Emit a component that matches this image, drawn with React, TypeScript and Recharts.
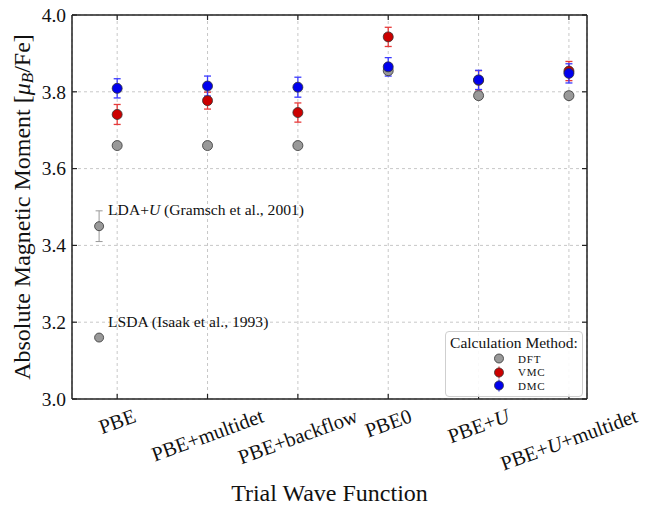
import { ScatterChart, Scatter, XAxis, YAxis, CartesianGrid, ErrorBar, Legend } from 'recharts';

const categories = ['PBE', 'PBE+multidet', 'PBE+backflow', 'PBE0', 'PBE+U', 'PBE+U+multidet'];
const dftValues = [3.66, 3.66, 3.66, 3.855, 3.79, 3.79];
const vmcValues = [3.741, 3.777, 3.746, 3.943, 3.83, 3.854];
const vmcErrors = [0.026, 0.022, 0.025, 0.025, 0.025, 0.025];
const dmcValues = [3.809, 3.815, 3.812, 3.865, 3.831, 3.848];
const dmcErrors = [0.025, 0.026, 0.026, 0.024, 0.025, 0.025];

const referenceNames = ['LDA+U (Gramsch et al., 2001)', 'LSDA (Isaak et al., 1993)'];
const referenceValues = [3.45, 3.16];
const referenceErrors = [0.04, 0];
const referenceX = -0.2;

const yTicks = [3.0, 3.2, 3.4, 3.6, 3.8, 4.0];
const xTicks = categories.map((_, i) => i);

const legendNames = ['DFT', 'VMC', 'DMC'];
const colors = ['#999999', '#cc0000', '#0000ee'];
const barColors = ['#888888', '#e63a3a', '#3a3aff'];

const dftData = categories.map((name, i) => ({ x: i, y: dftValues[i], name }));
const vmcData = categories.map((name, i) => ({ x: i, y: vmcValues[i], err: vmcErrors[i], name }));
const dmcData = categories.map((name, i) => ({ x: i, y: dmcValues[i], err: dmcErrors[i], name }));
const refData = referenceNames.map((name, i) => ({ x: referenceX, y: referenceValues[i], err: referenceErrors[i], name }));

const FONT = 'Liberation Serif, DejaVu Serif, serif';
const XTICK_SIZE = 20.5;
const YTICK_SIZE = 19.5;

const ctx = typeof document !== 'undefined' ? document.createElement('canvas').getContext('2d') : null;
function textWidth(s: string, size: number) {
  if (!ctx) return s.length * size * 0.5;
  let w = 0;
  s.split(/(U)/).forEach(part => {
    if (!part) return;
    ctx.font = `${part === 'U' ? 'italic ' : ''}${size}px ${FONT}`;
    w += ctx.measureText(part).width;
  });
  return w;
}

function italicU(s: string) {
  return s.split(/(U)/).filter(Boolean).map((part, i) =>
    part === 'U' ? <tspan key={i} fontStyle="italic">U</tspan> : <tspan key={i}>{part}</tspan>
  );
}

const dot = (fill: string) => (props: any) => (
  <circle cx={props.cx} cy={props.cy} r={5} fill={fill} stroke="#333" strokeWidth={0.8} />
);

const refShape = (props: any) => (
  <g>
    <circle cx={props.cx} cy={props.cy} r={4.5} fill={colors[0]} stroke="#333" strokeWidth={0.8} />
    <text x={props.cx + 9} y={props.cy - 11} style={{ fontFamily: FONT }} fontSize={15.6} fill="#111">
      {italicU(props.payload.name)}
    </text>
  </g>
);

function BottomTick({ x, y, payload }: any) {
  const label = categories[payload.value] ?? '';
  const L = textWidth(label, XTICK_SIZE);
  const a = (20 * Math.PI) / 180;
  const h = XTICK_SIZE * 0.72;
  const bh = L * Math.sin(a) + h * Math.cos(a);
  const cy = y + 9 + bh / 2;
  return (
    <g>
      <line x1={x} y1={y} x2={x} y2={y - 5} stroke="#222" strokeWidth={1.2} />
      <text x={x} y={cy} textAnchor="middle" dominantBaseline="central" style={{ fontFamily: FONT }}
        fontSize={XTICK_SIZE} fill="#111" transform={`rotate(-20 ${x} ${cy})`}>
        {italicU(label)}
      </text>
    </g>
  );
}

function TopTick({ x, y }: any) {
  return <line x1={x} y1={y} x2={x} y2={y + 5} stroke="#222" strokeWidth={1.2} />;
}

function LeftTick({ x, y, payload }: any) {
  return (
    <g>
      <line x1={x} y1={y} x2={x + 5} y2={y} stroke="#222" strokeWidth={1.2} />
      <text x={x - 6} y={y} dy="0.35em" textAnchor="end" style={{ fontFamily: FONT }} fontSize={YTICK_SIZE} fill="#111">
        {Number(payload.value).toFixed(1)}
      </text>
    </g>
  );
}

function RightTick({ x, y }: any) {
  return <line x1={x} y1={y} x2={x - 5} y2={y} stroke="#222" strokeWidth={1.2} />;
}

function YTitle({ viewBox }: any) {
  const cx = viewBox.x + 22;
  const cy = viewBox.y + viewBox.height / 2;
  return (
    <text x={cx} y={cy} textAnchor="middle" dominantBaseline="central" style={{ fontFamily: FONT }} fontSize={24}
      fill="#111" transform={`rotate(-90 ${cx} ${cy})`}>
      <tspan>Absolute Magnetic Moment [</tspan>
      <tspan fontStyle="italic">μ</tspan>
      <tspan fontStyle="italic" fontSize={17} dy={5}>B</tspan>
      <tspan dy={-5}>/Fe]</tspan>
    </text>
  );
}

function XTitle({ viewBox }: any) {
  return (
    <text x={viewBox.x + viewBox.width / 2} y={viewBox.y + viewBox.height - 5} textAnchor="middle"
      style={{ fontFamily: FONT }} fontSize={24} fill="#111">
      Trial Wave Function
    </text>
  );
}

function LegendBox() {
  return (
    <div style={{
      border: '1px solid #cfcfcf', borderRadius: 4, background: 'rgba(255,255,255,0.9)',
      fontFamily: FONT, padding: '2px 4px 3px', boxSizing: 'border-box', width: 138,
    }}>
      <div style={{ fontSize: 15.5, color: '#111', textAlign: 'center', lineHeight: '18px' }}>Calculation Method:</div>
      {legendNames.map((n, i) => (
        <div key={n} style={{ display: 'flex', alignItems: 'center', height: 13.5 }}>
          <svg width={14} height={13} style={{ marginLeft: 42 }}>
            {i > 0 && <line x1={7} y1={0.5} x2={7} y2={12.5} stroke={barColors[i]} strokeWidth={1.2} />}
            <circle cx={7} cy={6.5} r={4.5} fill={colors[i]} stroke="#333" strokeWidth={0.8} />
          </svg>
          <span style={{ fontSize: 11, letterSpacing: 0.8, marginLeft: 12, color: '#111' }}>{n}</span>
        </div>
      ))}
    </div>
  );
}

export default function App() {
  return (
    <div style={{ position: 'absolute', left: 0, top: 0, background: '#fff', fontFamily: FONT }}>
      <ScatterChart width={645} height={506} margin={{ top: 14, right: 57, left: 0, bottom: 0 }}>
        <CartesianGrid stroke="#c8c8c8" strokeDasharray="3 3" />
        <XAxis xAxisId={0} dataKey="x" type="number" domain={[-0.5, 5.2]} ticks={xTicks} allowDataOverflow
          height={107} tickLine={false} tickSize={0} tickMargin={0} tick={<BottomTick />} interval={0}
          axisLine={{ stroke: '#222', strokeWidth: 1.5 }} label={<XTitle />} />
        <XAxis xAxisId="top" orientation="top" dataKey="x" type="number" domain={[-0.5, 5.2]} ticks={xTicks}
          allowDataOverflow height={1} tickLine={false} tickSize={0} tickMargin={0} tick={<TopTick />} interval={0}
          axisLine={{ stroke: '#222', strokeWidth: 1.5 }} />
        <YAxis yAxisId={0} dataKey="y" type="number" domain={[3.0, 4.0]} ticks={yTicks} allowDataOverflow
          width={72} tickLine={false} tickSize={0} tickMargin={0} tick={<LeftTick />} interval={0}
          axisLine={{ stroke: '#222', strokeWidth: 1.5 }} label={<YTitle />} />
        <YAxis yAxisId="right" orientation="right" dataKey="y" type="number" domain={[3.0, 4.0]} ticks={yTicks}
          allowDataOverflow width={1} tickLine={false} tickSize={0} tickMargin={0} tick={<RightTick />} interval={0}
          axisLine={{ stroke: '#222', strokeWidth: 1.5 }} />
        <Scatter name="ref" data={refData} shape={refShape} isAnimationActive={false} legendType="none">
          <ErrorBar dataKey="err" direction="y" width={3.5} stroke="#999" strokeWidth={1} />
        </Scatter>
        <Scatter name="DFT" data={dftData} shape={dot(colors[0])} isAnimationActive={false} />
        <Scatter name="VMC" data={vmcData} shape={dot(colors[1])} isAnimationActive={false}>
          <ErrorBar dataKey="err" direction="y" width={3.5} stroke={barColors[1]} strokeWidth={1.3} />
        </Scatter>
        <Scatter name="DMC" data={dmcData} shape={dot(colors[2])} isAnimationActive={false}>
          <ErrorBar dataKey="err" direction="y" width={3.5} stroke={barColors[2]} strokeWidth={1.3} />
        </Scatter>
        <Legend layout="horizontal" verticalAlign="middle" align="center" content={<LegendBox />}
          wrapperStyle={{ left: 445, top: 331, width: 138, height: 'auto' }} />
      </ScatterChart>
    </div>
  );
}
